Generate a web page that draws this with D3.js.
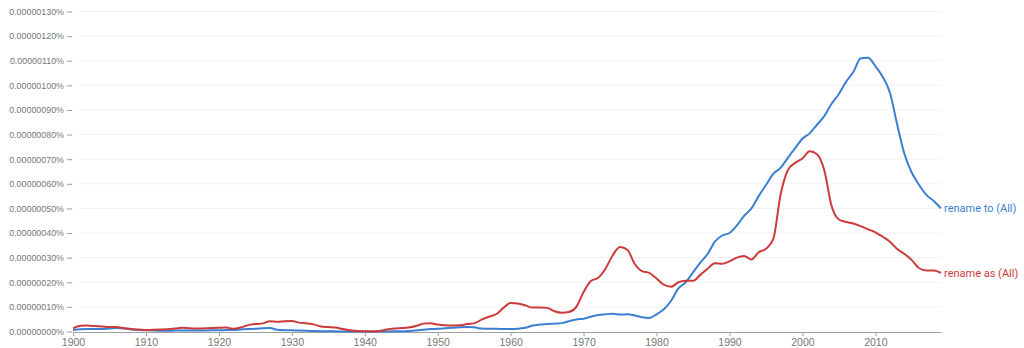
<!DOCTYPE html>
<html>
<head>
<meta charset="utf-8">
<script src="https://cdn.jsdelivr.net/npm/d3@7"></script>
<style>
  html, body { margin: 0; padding: 0; background: #fff; }
  svg { display: block; font-family: Roboto, "Noto Sans", Arial, sans-serif; }
</style>
</head>
<body>
<svg id="chart" width="1024" height="348"></svg>
<script>
// Years covered by the series
const years = d3.range(1900, 2020);

// Frequency values in units of 1e-8 percent (10 = 0.00000010%)
const renameTo = [
  0.6, 0.9, 1.0, 1.0, 1.0, 1.2, 1.4, 1.2, 0.8, 0.6,
  0.5, 0.4, 0.3, 0.3, 0.4, 0.4, 0.4, 0.4, 0.4, 0.5,
  0.5, 0.6, 0.6, 0.8, 1.0, 1.1, 1.3, 1.4, 0.7, 0.5,
  0.5, 0.4, 0.3, 0.2, 0.1, 0.1, 0.1, 0.0, 0.0, 0.0,
  0.0, 0.0, 0.0, 0.0, 0.1, 0.1, 0.2, 0.4, 0.7, 1.0,
  1.1, 1.3, 1.5, 1.7, 1.8, 1.7, 1.2, 1.1, 1.1, 1.0,
  1.0, 1.1, 1.5, 2.4, 2.8, 3.0, 3.2, 3.4, 4.2, 4.9,
  5.2, 6.0, 6.7, 7.0, 7.2, 6.9, 7.0, 6.5, 5.8, 5.5,
  7.0, 9.0, 12.5, 17.5, 20.0, 24.0, 28.0, 31.5, 36.5, 39.0,
  40.0, 43.0, 47.0, 50.0, 55.0, 59.5, 64.0, 66.5, 70.5, 74.5,
  78.3, 80.5, 84.0, 87.5, 92.5, 96.5, 101.5, 105.5, 111.0, 111.2,
  107.8, 103.5, 97.0, 84.0, 72.0, 64.5, 59.5, 55.5, 53.0, 50.0
];

const renameAs = [
  1.3, 2.3, 2.4, 2.2, 2.0, 1.8, 1.8, 1.3, 1.0, 0.8,
  0.6, 0.7, 0.8, 0.9, 1.2, 1.5, 1.3, 1.2, 1.3, 1.4,
  1.5, 1.6, 1.1, 1.6, 2.6, 3.0, 3.3, 4.2, 4.0, 4.2,
  4.3, 3.6, 3.3, 2.9, 2.0, 1.8, 1.6, 1.0, 0.5, 0.2,
  0.1, 0.0, 0.2, 0.8, 1.2, 1.4, 1.6, 2.2, 3.2, 3.4,
  2.8, 2.5, 2.4, 2.5, 3.0, 3.3, 4.8, 6.0, 7.0, 9.6,
  11.6, 11.4, 10.6, 9.7, 9.8, 9.6, 8.2, 7.6, 7.9, 10.0,
  16.0, 20.5, 21.8, 25.5, 31.0, 34.3, 33.2, 27.5, 24.5, 23.8,
  21.5, 19.0, 18.2, 20.0, 20.6, 20.6, 23.0, 25.5, 27.7, 27.5,
  28.5, 30.0, 30.7, 29.3, 32.2, 33.6, 37.5, 55.5, 65.5, 68.5,
  70.3, 73.2, 72.0, 65.5, 51.0, 45.5, 44.5, 43.9, 42.8, 41.5,
  40.3, 38.5, 36.5, 33.5, 31.5, 29.0, 25.7, 24.8, 24.8, 23.8
];

// Axis ticks
const yTicks = d3.range(0, 131, 10);
const xTicks = d3.range(1900, 2011, 10);

const seriesNames = ["rename to (All)", "rename as (All)"];
const seriesValues = [renameTo, renameAs];
const seriesColors = ["#3b7fd2", "#cc3a3a"];

const svg = d3.select("#chart");
const plotLeft = 73, plotRight = 941, plotTop = 11.5, plotBottom = 331.5;

const x = d3.scaleLinear().domain([1900, 2019]).range([plotLeft, plotRight]);
const y = d3.scaleLinear().domain([0, 130]).range([plotBottom, plotTop]);

// Horizontal gridlines
svg.append("g")
  .selectAll("line")
  .data(yTicks.filter(d => d > 0))
  .join("line")
  .attr("x1", plotLeft + 4).attr("x2", plotRight)
  .attr("y1", d => y(d)).attr("y2", d => y(d))
  .attr("stroke", "#f2f2f2").attr("stroke-width", 1);

// Y axis labels with short tick marks
const yAxis = d3.axisLeft(y)
  .tickValues(yTicks)
  .tickSize(5)
  .tickPadding(3)
  .tickFormat(d => (d * 1e-8).toFixed(8) + "%");
const gy = svg.append("g").attr("transform", `translate(${plotLeft - 1},0)`).call(yAxis);
gy.select(".domain").remove();
gy.selectAll(".tick line").attr("stroke", "#9a9a9a");
gy.selectAll(".tick text").attr("fill", "#777").style("font-size", "8.9px");

// X axis
const xAxis = d3.axisBottom(x)
  .tickValues(xTicks)
  .tickSize(4)
  .tickSizeOuter(0)
  .tickPadding(3)
  .tickFormat(d3.format("d"));
const gx = svg.append("g").attr("transform", `translate(0,${plotBottom + 0.5})`).call(xAxis);
gx.select(".domain").attr("stroke", "#a0a0a0");
gx.selectAll(".tick line").attr("stroke", "#a0a0a0");
gx.selectAll(".tick text").attr("fill", "#777").style("font-size", "10.5px");

// Series lines
const line = d3.line()
  .x((d, i) => x(years[i]))
  .y(d => y(d))
  .curve(d3.curveMonotoneX);

seriesValues.forEach((vals, k) => {
  svg.append("path")
    .datum(vals)
    .attr("fill", "none")
    .attr("stroke", seriesColors[k])
    .attr("stroke-width", 2)
    .attr("stroke-linejoin", "round")
    .attr("d", line);

  const lastVal = vals[vals.length - 1];
  svg.append("text")
    .attr("x", x(years[years.length - 1]) + 3)
    .attr("y", y(lastVal))
    .attr("dy", "0.35em")
    .attr("fill", seriesColors[k])
    .style("font-size", "11px")
    .text(seriesNames[k]);
});
</script>
</body>
</html>
